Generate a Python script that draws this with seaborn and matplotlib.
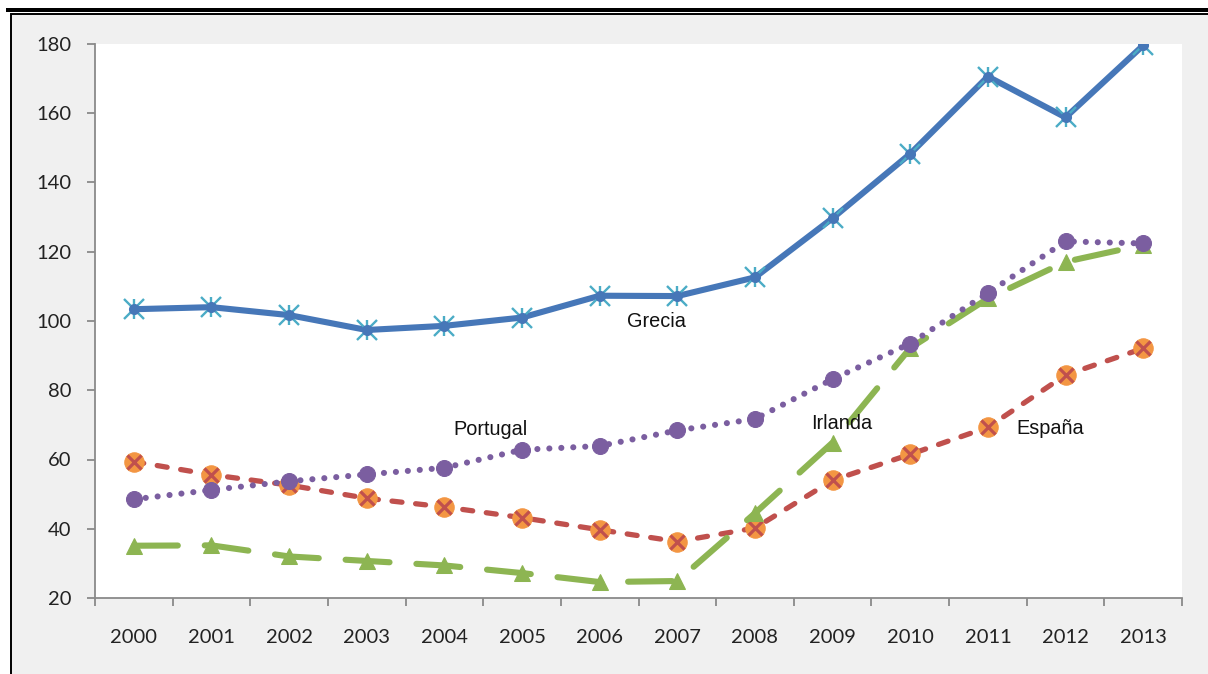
import matplotlib
matplotlib.use("Agg")
import matplotlib.pyplot as plt
import seaborn as sns
import pandas as pd
import numpy as np
from matplotlib.patches import Rectangle
from matplotlib.ticker import FixedLocator, NullFormatter

years = list(range(2000, 2014))
grecia = [103.4, 104.0, 101.7, 97.4, 98.6, 101.0, 107.3, 107.2, 112.6, 129.7, 148.3, 170.6, 158.8, 179.6]
portugal = [48.5, 51.2, 53.7, 55.7, 57.6, 62.8, 63.9, 68.4, 71.7, 83.2, 93.5, 108.1, 123.0, 122.4]
espana = [59.4, 55.6, 52.6, 48.8, 46.3, 43.2, 39.7, 36.3, 40.2, 54.0, 61.5, 69.3, 84.4, 92.1]
irlanda = [35.1, 35.2, 32.0, 30.7, 29.4, 27.2, 24.6, 24.9, 44.5, 64.9, 92.2, 106.5, 117.1, 122.0]

labels = {"Grecia": (2006.73, 99.8), "Portugal": (2004.6, 68.6),
          "Irlanda": (2009.12, 70.3), "España": (2011.8, 68.9)}

df = pd.DataFrame({"year": years, "Grecia": grecia, "Portugal": portugal,
                   "España": espana, "Irlanda": irlanda})

sns.set_style("white")
plt.rcParams["font.family"] = ["Lato", "DejaVu Sans"]

fig = plt.figure(figsize=(12.08, 6.74), dpi=100)
fig.patch.set_facecolor("white")
W, H = 1208, 674
# outer frame and top rule
fig.add_artist(Rectangle((11 / W, -0.05), 1 - 11 / W + 0.05, (H - 14) / H + 0.05, transform=fig.transFigure,
                         facecolor="#f0f0f0", edgecolor="black", lw=1.4, zorder=0))
fig.add_artist(Rectangle((6 / W, (H - 12) / H), 1, 4 / H, transform=fig.transFigure,
                         facecolor="black", edgecolor="none", zorder=0))

ax = fig.add_axes([95 / W, (H - 598) / H, (1182 - 95) / W, (598 - 44) / H])
ax.set_facecolor("white")

blue = "#4677b8"
cyan = "#4bacc6"
purple = "#7b5ea0"
red = "#c0504d"
orange = "#f39643"
green = "#8db552"

# Grecia
sns.lineplot(data=df, x="year", y="Grecia", ax=ax, color=blue, lw=4.4, zorder=3,
             marker="x", markersize=15, markeredgecolor=cyan, markeredgewidth=1.7,
             solid_capstyle="round")
sns.lineplot(data=df, x="year", y="Grecia", ax=ax, color=cyan, lw=0, zorder=4,
             marker="|", markersize=15, markeredgewidth=1.7, markeredgecolor=cyan)
sns.lineplot(data=df, x="year", y="Grecia", ax=ax, color=blue, lw=0, zorder=4,
             marker="o", markersize=8, markeredgewidth=0)
# España
sns.lineplot(data=df, x="year", y="España", ax=ax, color=red, lw=3.8, zorder=3,
             linestyle=(0, (1.9, 2.6)), dash_capstyle="round",
             marker="o", markersize=14, markerfacecolor=orange, markeredgecolor=orange)
sns.lineplot(data=df, x="year", y="España", ax=ax, color=red, lw=0, zorder=4,
             marker="x", markersize=10.5, markeredgewidth=2.3, markeredgecolor=red)
# Irlanda
sns.lineplot(data=df, x="year", y="Irlanda", ax=ax, color=green, lw=4.4, zorder=5,
             linestyle=(0, (7.2, 4.4)), dash_capstyle="round",
             marker="^", markersize=11.5, markerfacecolor=green, markeredgecolor=green)
# Portugal
sns.lineplot(data=df, x="year", y="Portugal", ax=ax, color=purple, lw=4.4, zorder=6,
             linestyle=(0, (0.01, 1.95)), dash_capstyle="round",
             marker="o", markersize=11.5, markerfacecolor=purple, markeredgecolor=purple)

for name, (lx, ly) in labels.items():
    ax.text(lx, ly, name, ha="center", va="center", fontsize=14.3,
            family=["Liberation Sans", "DejaVu Sans"], color="#111111", zorder=7)

ax.set_xlim(1999.5, 2013.5)
ax.set_ylim(20, 180)
ax.set_yticks(np.arange(20, 181, 20))
ax.xaxis.set_major_locator(FixedLocator(years))
ax.xaxis.set_minor_locator(FixedLocator(np.arange(1999.5, 2014, 1.0)))
ax.xaxis.set_minor_formatter(NullFormatter())
ax.set_xticklabels([str(y) for y in years])
ax.tick_params(axis="x", which="major", length=0, pad=22, labelsize=14.5, labelcolor="#222222")
ax.tick_params(axis="x", which="minor", length=6, width=1.3, color="#8a8a8a", bottom=True)
ax.tick_params(axis="y", length=6, width=1.3, color="#8a8a8a", pad=11, labelsize=14.5,
               labelcolor="#222222", left=True)
for s in ["top", "right"]:
    ax.spines[s].set_visible(False)
for s in ["left", "bottom"]:
    ax.spines[s].set_color("#8a8a8a")
    ax.spines[s].set_linewidth(1.3)
ax.set_xlabel("")
ax.set_ylabel("")
ax.grid(False)

fig.savefig("out.png", dpi=100, facecolor=fig.get_facecolor())
